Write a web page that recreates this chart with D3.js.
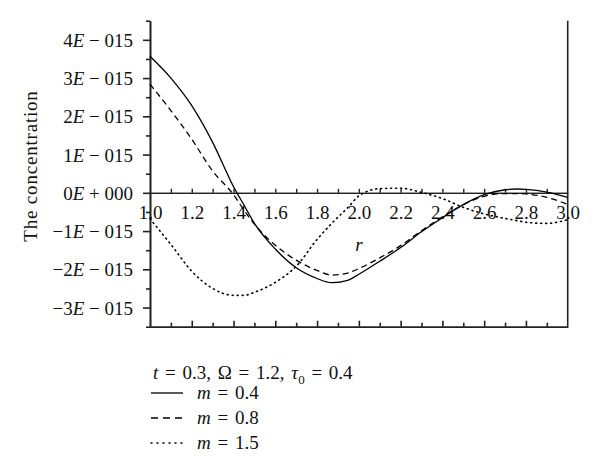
<!DOCTYPE html>
<html>
<head>
<meta charset="utf-8">
<script src="https://cdn.jsdelivr.net/npm/d3@7"></script>
<style>
  body { margin: 0; background: #fff; }
  svg text { font-family: "Liberation Serif", "Times New Roman", serif; fill: #111; }
  .axis path, .axis line { stroke: #222; }
</style>
</head>
<body>
<div id="chart"></div>
<script>
// radial coordinate r
const rVals = [1.0, 1.1, 1.2, 1.3, 1.4, 1.45, 1.5, 1.6, 1.7, 1.8, 1.87, 1.95, 2.0, 2.1, 2.2, 2.3, 2.4, 2.5, 2.6, 2.7, 2.76, 2.8, 2.9, 3.0];
// concentration values in units of 1E-15
const m04 = [3.57, 3.0, 2.28, 1.32, 0.16, -0.32, -0.8, -1.47, -1.96, -2.24, -2.35, -2.28, -2.13, -1.79, -1.43, -1.02, -0.65, -0.31, -0.05, 0.08, 0.1, 0.09, 0.02, -0.12];
const m08 = [2.84, 2.15, 1.4, 0.57, -0.05, -0.45, -0.82, -1.37, -1.76, -2.03, -2.15, -2.09, -1.98, -1.7, -1.38, -0.99, -0.63, -0.31, -0.09, -0.02, -0.02, -0.03, -0.12, -0.3];
const m15 = [-0.68, -1.35, -2.05, -2.5, -2.68, -2.68, -2.6, -2.34, -1.92, -1.22, -0.8, -0.37, -0.08, 0.11, 0.12, 0.01, -0.15, -0.38, -0.55, -0.67, -0.73, -0.77, -0.8, -0.7];

const seriesNames = ["m = 0.4", "m = 0.8", "m = 1.5"];
const seriesData = [m04, m08, m15];
const dashes = [null, "6,4", "1,4"];

const yMajor = [-3, -2, -1, 0, 1, 2, 3, 4];
const yMinor = [-3.5, -2.5, -1.5, -0.5, 0.5, 1.5, 2.5, 3.5, 4.5];
const xMajor = [1.0, 1.2, 1.4, 1.6, 1.8, 2.0, 2.2, 2.4, 2.6, 2.8, 3.0];
const xMinor = [1.1, 1.3, 1.5, 1.7, 1.9, 2.1, 2.3, 2.5, 2.7, 2.9];

var width = 600, height = 476;
var plotL = 150, plotR = 567.7, plotT = 20.7, plotB = 326.7;
var fs = 19;

const svg = d3.select("#chart").append("svg")
    .attr("width", width)
    .attr("height", height);

const x = d3.scaleLinear().domain([1, 3]).range([plotL, plotR]);
const y = d3.scaleLinear().domain([-3.5, 4.5]).range([plotB, plotT]);

// left axis
svg.append("g").attr("class", "axis")
    .attr("transform", `translate(${plotL},0)`)
    .call(d3.axisLeft(y).tickValues(yMinor).tickSize(4).tickSizeOuter(0).tickFormat(""))
    .call(g => g.selectAll("path, line").attr("stroke-width", 1.6));

const yAx = svg.append("g").attr("class", "axis")
    .attr("transform", `translate(${plotL},0)`)
    .call(d3.axisLeft(y).tickValues(yMajor).tickSize(7).tickSizeOuter(0).tickPadding(10).tickFormat(""));
yAx.selectAll("path, line").attr("stroke-width", 1.6);
yAx.selectAll(".tick text").each(function(d) {
    const t = d3.select(this).attr("font-size", fs).attr("dy", "0.35em").attr("fill", "#111");
    const mant = d < 0 ? "\u2212" + (-d) : "" + d;
    t.append("tspan").text(mant);
    t.append("tspan").attr("font-style", "italic").text("E");
    t.append("tspan").text(d === 0 ? " + 000" : " \u2212 015");
});

// right frame line
svg.append("line")
    .attr("x1", plotR).attr("x2", plotR).attr("y1", plotT).attr("y2", plotB)
    .attr("stroke", "#222").attr("stroke-width", 1.6);

// bottom axis with inward ticks
svg.append("g").attr("class", "axis")
    .attr("transform", `translate(0,${plotB})`)
    .call(d3.axisBottom(x).tickValues(xMinor).tickSize(-4).tickSizeOuter(0).tickFormat(""))
    .call(g => g.selectAll("path, line").attr("stroke-width", 1.6));
svg.append("g").attr("class", "axis")
    .attr("transform", `translate(0,${plotB})`)
    .call(d3.axisBottom(x).tickValues(xMajor.slice(1, -1)).tickSize(-6).tickSizeOuter(0).tickFormat(""))
    .call(g => g.selectAll("path, line").attr("stroke-width", 1.6));

// zero line axis with labels below
svg.append("g").attr("class", "axis")
    .attr("transform", `translate(0,${y(0)})`)
    .call(d3.axisBottom(x).tickValues(xMinor).tickSize(-4).tickSizeOuter(0).tickFormat(""))
    .call(g => g.selectAll("path, line").attr("stroke-width", 1.4));
const xAx = svg.append("g").attr("class", "axis")
    .attr("transform", `translate(0,${y(0)})`)
    .call(d3.axisBottom(x).tickValues(xMajor).tickSize(-4).tickSizeOuter(0).tickPadding(13).tickFormat(d3.format(".1f")));
xAx.selectAll("path, line").attr("stroke-width", 1.4);
xAx.selectAll(".tick line").filter(d => d === 1 || d === 3).remove();
xAx.selectAll(".tick text").attr("font-size", fs).attr("fill", "#111");

// axis titles
svg.append("text")
    .attr("x", 359).attr("y", 251)
    .attr("text-anchor", "middle")
    .attr("font-size", fs)
    .attr("font-style", "italic")
    .text("r");

svg.append("text")
    .attr("transform", "translate(37,166) rotate(-90)")
    .attr("text-anchor", "middle")
    .attr("font-size", fs)
    .attr("letter-spacing", 0.8)
    .text("The concentration");

// curves
const line = d3.line()
    .x((d, i) => x(rVals[i]))
    .y(d => y(d))
    .curve(d3.curveMonotoneX);

seriesData.forEach((s, k) => {
    svg.append("path")
        .attr("d", line(s))
        .attr("fill", "none")
        .attr("stroke", "#000")
        .attr("stroke-width", k === 2 ? 1.6 : 1.3)
        .attr("stroke-linecap", k === 2 ? "round" : "butt")
        .attr("stroke-dasharray", dashes[k]);
});

// legend
const legend = svg.append("g");
const title = legend.append("text")
    .attr("x", 153).attr("y", 379)
    .attr("font-size", fs)
    .attr("word-spacing", 2);
title.append("tspan").attr("font-style", "italic").text("t");
title.append("tspan").text(" = 0.3, \u03A9 = 1.2, ");
title.append("tspan").attr("font-style", "italic").text("\u03C4");
title.append("tspan").attr("font-size", 13).attr("dy", 5).text("0");
title.append("tspan").attr("dy", -5).text(" = 0.4");

seriesNames.forEach((name, k) => {
    const yy = 393 + k * 25;
    legend.append("line")
        .attr("x1", 151).attr("x2", 183)
        .attr("y1", yy).attr("y2", yy)
        .attr("stroke", "#000")
        .attr("stroke-width", k === 2 ? 1.5 : 1.3)
        .attr("stroke-linecap", k === 2 ? "round" : "butt")
        .attr("stroke-dasharray", k === 1 ? "7,5" : (k === 2 ? "1,5" : null));
    const t = legend.append("text")
        .attr("x", 197).attr("y", yy + 6)
        .attr("font-size", fs)
        .attr("word-spacing", 2);
    t.append("tspan").attr("font-style", "italic").text("m");
    t.append("tspan").text(name.slice(1));
});
</script>
</body>
</html>
